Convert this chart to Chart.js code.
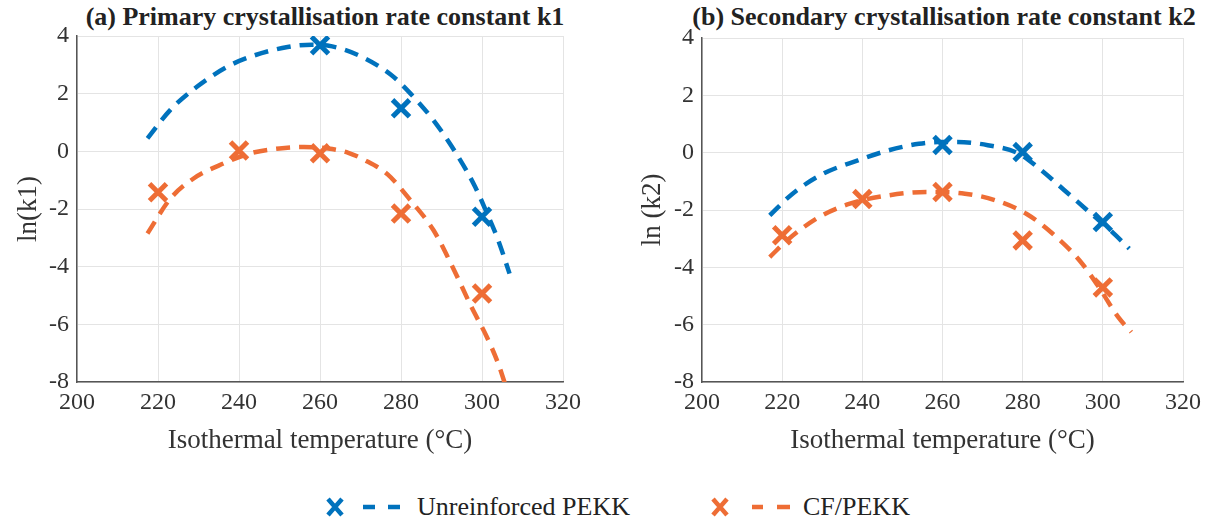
<!DOCTYPE html>
<html>
<head>
<meta charset="utf-8">
<script src="https://cdn.jsdelivr.net/npm/chart.js@4/dist/chart.umd.min.js"></script>
<style>
  body { margin: 0; background: #fff; width: 1220px; height: 527px; overflow: hidden; position: relative; font-family: "Liberation Serif", "Times New Roman", serif; }
  canvas { position: absolute; top: 0; }
  .ttl { position: absolute; top: 3px; line-height: 28px; font-size: 26px; font-weight: bold; color: #222; white-space: nowrap; transform: translateX(-50%); }
  .leg { position: absolute; top: 492px; line-height: 30px; font-size: 26px; color: #222; white-space: nowrap; }
  svg { position: absolute; }
</style>
</head>
<body>
<div class="ttl" style="left:325px">(a) Primary crystallisation rate constant k1</div>
<div class="ttl" style="left:944px">(b) Secondary crystallisation rate constant k2</div>
<canvas id="k1Chart" width="610" height="470" style="left:0"></canvas>
<canvas id="k2Chart" width="600" height="470" style="left:620px"></canvas>

<svg width="80" height="30" style="left:325px;top:492px">
  <path d="M3,7 L17,23 M17,7 L3,23" stroke="#0072BD" stroke-width="4.5"/>
  <path d="M38,15 H50 M63,15 H75" stroke="#0072BD" stroke-width="4.5"/>
</svg>
<div class="leg" style="left:417px">Unreinforced PEKK</div>
<svg width="80" height="30" style="left:710px;top:492px">
  <path d="M3,7 L17,23 M17,7 L3,23" stroke="#EE6D35" stroke-width="4.5"/>
  <path d="M42,15 H53 M67,15 H80" stroke="#EE6D35" stroke-width="4.5"/>
</svg>
<div class="leg" style="left:803px">CF/PEKK</div>

<script>
const BLUE = "#0072BD";
const ORANGE = "#EE6D35";

// measured points (isothermal temperature, deg C)
const temps = [220, 240, 260, 280, 300];
const k1Pekk = [null, null, 3.68, 1.49, -2.27];
const k1Cf = [-1.42, 0.03, -0.07, -2.16, -4.93];
const k2Pekk = [null, null, 0.27, 0.02, -2.42];
const k2Cf = [-2.88, -1.62, -1.37, -3.06, -4.70];

// fitted curves
const k1PekkFitT = [217.4, 223, 229.6, 237.2, 242.8, 252, 258, 263, 270, 277.6, 282.3, 288, 293.6, 298.3, 301.6, 304, 306.8];
const k1PekkFit = [0.45, 1.43, 2.24, 2.94, 3.28, 3.62, 3.7, 3.64, 3.3, 2.65, 2.01, 1.08, -0.07, -1.23, -2.27, -3.08, -4.24];
const k1CfFitT = [217.4, 223, 228.7, 236.2, 242.8, 250, 256, 262, 267, 271, 276.7, 282.3, 288, 292.7, 297.4, 301.2, 304, 306];
const k1CfFit = [-2.85, -1.65, -0.95, -0.42, -0.07, 0.1, 0.15, 0.1, -0.05, -0.3, -0.8, -1.69, -2.73, -4.0, -5.4, -6.44, -7.36, -8.2];
const k2PekkFitT = [216.9, 222.6, 230.3, 238.9, 246.5, 254.1, 259, 263.7, 271.3, 279, 284.7, 290.4, 297.1, 301.9, 306.6];
const k2PekkFit = [-2.19, -1.43, -0.73, -0.27, 0.08, 0.31, 0.37, 0.37, 0.26, -0.03, -0.62, -1.31, -2.13, -2.71, -3.35];
const k2CfFitT = [216.9, 221.7, 229.3, 236.9, 246.5, 256, 265.6, 273.2, 280.9, 287.5, 294.2, 299, 303.8, 307.1];
const k2CfFit = [-3.64, -3.0, -2.24, -1.78, -1.49, -1.37, -1.43, -1.66, -2.13, -2.83, -3.76, -4.69, -5.73, -6.26];

const xTicks = [200, 220, 240, 260, 280, 300, 320];
const yTicks = [-8, -6, -4, -2, 0, 2, 4];

const FONT = "'Liberation Serif', 'Times New Roman', serif";
Chart.defaults.font.family = FONT;

function pts(xs, ys) {
  return xs.map((x, i) => ({ x, y: ys[i] })).filter(p => p.y !== null);
}

function markers(ys, color) {
  return {
    data: pts(temps, ys),
    showLine: false,
    pointStyle: "crossRot",
    pointRadius: 12,
    pointBorderWidth: 5,
    borderColor: color,
    backgroundColor: color,
    order: 0,
  };
}

function fit(xs, ys, color) {
  return {
    data: pts(xs, ys),
    showLine: true,
    pointRadius: 0,
    borderColor: color,
    borderWidth: 4.5,
    borderDash: [14, 9],
    cubicInterpolationMode: "monotone",
    order: 1,
  };
}

function makeChart(canvasId, datasets, yTitle, o) {
  const ctx = document.getElementById(canvasId).getContext("2d");
  return new Chart(ctx, {
    type: "scatter",
    data: { datasets },
    options: {
      responsive: false,
      animation: false,
      layout: { padding: { top: o.top, right: o.right, left: 0, bottom: 0 } },
      plugins: { legend: { display: false }, tooltip: { enabled: false } },
      scales: {
        x: {
          min: 200, max: 320,
          afterBuildTicks: s => { s.ticks = xTicks.map(v => ({ value: v })); },
          afterFit: s => { s.height = 88; },
          ticks: { color: "#333", font: { family: FONT, size: 24 }, padding: 6, maxRotation: 0 },
          grid: { color: "#e4e4e4", drawTicks: false },
          border: { color: "#555", width: 1.5 },
          title: { display: true, text: "Isothermal temperature (°C)", color: "#333",
                   font: { family: FONT, size: 27 }, padding: { top: 0, bottom: 13 } },
        },
        y: {
          min: -8, max: 4,
          afterBuildTicks: s => { s.ticks = yTicks.map(v => ({ value: v })); },
          afterFit: s => { s.width = o.yw; },
          ticks: { color: "#333", font: { family: FONT, size: 24 }, padding: 8 },
          grid: { color: "#e4e4e4", drawTicks: false },
          border: { color: "#555", width: 1.5 },
          title: { display: true, text: yTitle, color: "#333",
                   font: { family: FONT, size: 27 }, padding: { top: o.ytp, bottom: 0 } },
        }
      }
    }
  });
}

makeChart("k1Chart", [
  markers(k1Pekk, BLUE), markers(k1Cf, ORANGE),
  fit(k1PekkFitT, k1PekkFit, BLUE), fit(k1CfFitT, k1CfFit, ORANGE)
], "ln(k1)", { top: 36, right: 47, yw: 77, ytp: 13 });

makeChart("k2Chart", [
  markers(k2Pekk, BLUE), markers(k2Cf, ORANGE),
  fit(k2PekkFitT, k2PekkFit, BLUE), fit(k2CfFitT, k2CfFit, ORANGE)
], "ln (k2)", { top: 38, right: 37, yw: 82, ytp: 17 });
</script>
</body>
</html>
